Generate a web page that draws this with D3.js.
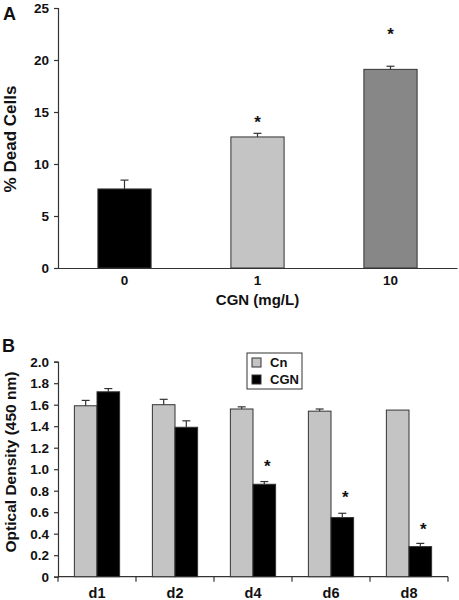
<!DOCTYPE html>
<html><head><meta charset="utf-8">
<script src="https://cdn.jsdelivr.net/npm/d3@7"></script>
<style>
body{margin:0;background:#fff;}
text{font-family:"Liberation Sans",Arial,sans-serif;font-weight:bold;fill:#111;}
</style></head>
<body><svg id="c" width="459" height="600"></svg>
<script>
// Panel A data
const doseCats = ["0", "1", "10"];
const deadVals = [7.6, 12.6, 19.1];
const deadErr = [0.85, 0.35, 0.3];
const deadColors = ["#000000", "#c4c4c4", "#878787"];
const deadStars = [null, 14.4, 22.9];
const aTicks = [0, 5, 10, 15, 20, 25];

// Panel B data
const dayCats = ["d1", "d2", "d4", "d6", "d8"];
const seriesNames = ["Cn", "CGN"];
const cnVals = [1.59, 1.60, 1.56, 1.54, 1.55];
const cnErr = [0.05, 0.05, 0.02, 0.02, 0];
const cgnVals = [1.72, 1.39, 0.86, 0.55, 0.28];
const cgnErr = [0.03, 0.06, 0.025, 0.04, 0.03];
const cgnStars = [null, null, 1.07, 0.78, 0.48];
const bTicks = [0, 0.2, 0.4, 0.6, 0.8, 1.0, 1.2, 1.4, 1.6, 1.8, 2.0];
const seriesColors = ["#c4c4c4", "#000000"];

const svg = d3.select("#c");
const axisColor = "#333";

function styleAxis(g) {
  g.selectAll("path,line").attr("stroke", axisColor).attr("stroke-width", 1.2);
  g.selectAll("text").attr("font-size", 13.5).attr("font-weight", "bold")
   .attr("font-family", '"Liberation Sans",Arial,sans-serif').attr("fill", "#111");
}

// ---------- Panel A ----------
const ax0 = 58, ax1 = 457, ayTop = 8, ay0 = 268;
const xA = d3.scaleBand().domain(doseCats).range([ax0, ax1]).paddingInner(0.6).paddingOuter(0.3);
const yA = d3.scaleLinear().domain([0, 25]).range([ay0, ayTop]);

const gA = svg.append("g");
gA.append("g").attr("transform", `translate(${ax0},0)`)
  .call(d3.axisLeft(yA).tickValues(aTicks).tickSize(4).tickSizeOuter(4).tickPadding(5))
  .call(styleAxis);
gA.append("g").attr("transform", `translate(0,${ay0})`)
  .call(d3.axisBottom(xA).tickSize(0).tickSizeOuter(0).tickPadding(7))
  .call(styleAxis);

gA.selectAll("rect.bar").data(doseCats).join("rect")
  .attr("x", d => xA(d)).attr("width", xA.bandwidth())
  .attr("y", (d, i) => yA(deadVals[i])).attr("height", (d, i) => ay0 - yA(deadVals[i]))
  .attr("fill", (d, i) => deadColors[i]).attr("stroke", axisColor).attr("stroke-width", 1);

doseCats.forEach((d, i) => {
  const cx = xA(d) + xA.bandwidth() / 2;
  const top = yA(deadVals[i] + deadErr[i]);
  gA.append("line").attr("x1", cx).attr("x2", cx).attr("y1", yA(deadVals[i])).attr("y2", top)
    .attr("stroke", axisColor).attr("stroke-width", 1.2);
  gA.append("line").attr("x1", cx - 4).attr("x2", cx + 4).attr("y1", top).attr("y2", top)
    .attr("stroke", axisColor).attr("stroke-width", 1.2);
  if (deadStars[i] != null) {
    gA.append("text").attr("x", cx).attr("y", yA(deadStars[i]) + 10)
      .attr("text-anchor", "middle").attr("font-size", 17).text("*");
  }
});

svg.append("text").attr("x", 3).attr("y", 20).attr("font-size", 18).text("A");
svg.append("text").attr("transform", `translate(16,139) rotate(-90)`)
  .attr("text-anchor", "middle").attr("font-size", 17).text("% Dead Cells");
svg.append("text").attr("x", (ax0 + ax1) / 2).attr("y", 305)
  .attr("text-anchor", "middle").attr("font-size", 15).text("CGN (mg/L)");

// ---------- Panel B ----------
const bx0 = 58, bx1 = 448, byTop = 361.7, by0 = 576.7;
const xB = d3.scaleBand().domain(dayCats).range([bx0, bx1]).paddingInner(0.42).paddingOuter(0.21);
const xBand = d3.scaleBand().domain(dayCats).range([bx0, bx1]).padding(0);
const xSub = d3.scaleBand().domain(seriesNames).range([0, xB.bandwidth()]).padding(0);
const yB = d3.scaleLinear().domain([0, 2.0]).range([by0, byTop]);

const gB = svg.append("g");
gB.append("g").attr("transform", `translate(${bx0},0)`)
  .call(d3.axisLeft(yB).tickValues(bTicks).tickFormat(d => d === 0 ? "0" : d3.format(".1f")(d))
    .tickSize(4).tickSizeOuter(4).tickPadding(5))
  .call(styleAxis);
// x axis line + boundary ticks
const xAxisG = gB.append("g").attr("transform", `translate(0,${by0})`);
xAxisG.append("line").attr("x1", bx0).attr("x2", bx1).attr("y1", 0).attr("y2", 0)
  .attr("stroke", axisColor).attr("stroke-width", 1.2);
const bounds = dayCats.map(d => xBand(d)).concat([bx1]);
xAxisG.selectAll("line.tk").data(bounds).join("line").attr("class", "tk")
  .attr("x1", d => d).attr("x2", d => d).attr("y1", 0).attr("y2", 5)
  .attr("stroke", axisColor).attr("stroke-width", 1.2);
xAxisG.selectAll("text.lb").data(dayCats).join("text").attr("class", "lb")
  .attr("x", d => xBand(d) + xBand.bandwidth() / 2).attr("y", 21)
  .attr("text-anchor", "middle").attr("font-size", 14.5).text(d => d);

const seriesVals = [cnVals, cgnVals];
const seriesErrs = [cnErr, cgnErr];
dayCats.forEach((d, i) => {
  seriesNames.forEach((s, j) => {
    const v = seriesVals[j][i], e = seriesErrs[j][i];
    const x = xB(d) + xSub(s);
    gB.append("rect").attr("x", x).attr("width", xSub.bandwidth())
      .attr("y", yB(v)).attr("height", by0 - yB(v))
      .attr("fill", seriesColors[j]).attr("stroke", axisColor).attr("stroke-width", 1);
    if (e > 0) {
      const cx = x + xSub.bandwidth() / 2, top = yB(v + e);
      gB.append("line").attr("x1", cx).attr("x2", cx).attr("y1", yB(v)).attr("y2", top)
        .attr("stroke", axisColor).attr("stroke-width", 1.2);
      gB.append("line").attr("x1", cx - 4).attr("x2", cx + 4).attr("y1", top).attr("y2", top)
        .attr("stroke", axisColor).attr("stroke-width", 1.2);
    }
  });
  if (cgnStars[i] != null) {
    const cx = xB(d) + xSub("CGN") + xSub.bandwidth() / 2 + 3;
    gB.append("text").attr("x", cx).attr("y", yB(cgnStars[i]) + 10)
      .attr("text-anchor", "middle").attr("font-size", 17).text("*");
  }
});

// legend
const lg = svg.append("g").attr("transform", "translate(247,353)");
lg.append("rect").attr("width", 55).attr("height", 36).attr("fill", "#fff")
  .attr("stroke", axisColor).attr("stroke-width", 1);
seriesNames.forEach((s, j) => {
  lg.append("rect").attr("x", 5).attr("y", 5 + j * 17).attr("width", 9).attr("height", 9)
    .attr("fill", seriesColors[j]).attr("stroke", axisColor).attr("stroke-width", 1);
  lg.append("text").attr("x", 23).attr("y", 14 + j * 17).attr("font-size", 13).text(s);
});

svg.append("text").attr("x", 2).attr("y", 352).attr("font-size", 18).text("B");
svg.append("text").attr("transform", `translate(16,462) rotate(-90)`)
  .attr("text-anchor", "middle").attr("font-size", 15.5).text("Optical Density (450 nm)");
</script></body></html>
